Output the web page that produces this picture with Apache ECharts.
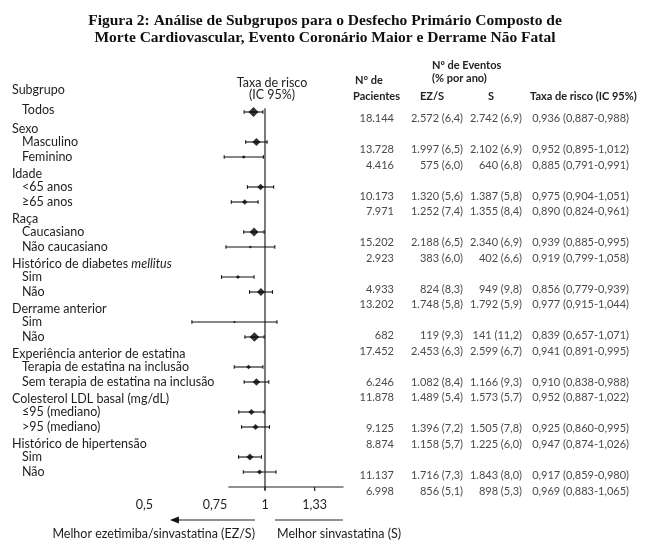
<!DOCTYPE html>
<html><head><meta charset="utf-8">
<script src="https://cdn.jsdelivr.net/npm/echarts@6/dist/echarts.min.js"></script>
<style>html,body{margin:0;padding:0;background:#fff}#c{width:650px;height:550px}</style>
</head><body><div id="c"></div>
<script>
// ---------------- data ----------------
const titleText = 'Figura 2: Análise de Subgrupos para o Desfecho Primário Composto de\nMorte Cardiovascular, Evento Coronário Maior e Derrame Não Fatal';
const subgroupHeader = 'Subgrupo';
const overallLabel = 'Todos';
const groupNames = ['Sexo', 'Idade', 'Raça', 'Histórico de diabetes {i|mellitus}', 'Derrame anterior',
  'Experiência anterior de estatina', 'Colesterol LDL basal (mg/dL)', 'Histórico de hipertensão'];
const subgroupNames = [['Masculino', 'Feminino'], ['<65 anos', '≥65 anos'], ['Caucasiano', 'Não caucasiano'],
  ['Sim', 'Não'], ['Sim', 'Não'], ['Terapia de estatina na inclusão', 'Sem terapia de estatina na inclusão'],
  ['≤95 (mediano)', '>95 (mediano)'], ['Sim', 'Não']];
// rows: Todos, then two subgroups per group
const hazardRatio = [0.936, 0.952, 0.885, 0.975, 0.890, 0.939, 0.919, 0.856, 0.977, 0.839, 0.941, 0.910, 0.952, 0.925, 0.947, 0.917, 0.969];
const ciLow =       [0.887, 0.895, 0.791, 0.904, 0.824, 0.885, 0.799, 0.779, 0.915, 0.657, 0.891, 0.838, 0.887, 0.860, 0.874, 0.859, 0.883];
const ciHigh =      [0.988, 1.012, 0.991, 1.051, 0.961, 0.995, 1.058, 0.939, 1.044, 1.071, 0.995, 0.988, 1.022, 0.995, 1.026, 0.980, 1.065];
const nPatients =   [18144, 13728, 4416, 10173, 7971, 15202, 2923, 4933, 13202, 682, 17452, 6246, 11878, 9125, 8874, 11137, 6998];
const ezsEvents =   [2572, 1997, 575, 1320, 1252, 2188, 383, 824, 1748, 119, 2453, 1082, 1489, 1396, 1158, 1716, 856];
const ezsRate =     [6.4, 6.5, 6.0, 5.6, 7.4, 6.5, 6.0, 8.3, 5.8, 9.3, 6.3, 8.4, 5.4, 7.2, 5.7, 7.3, 5.1];
const sEvents =     [2742, 2102, 640, 1387, 1355, 2340, 402, 949, 1792, 141, 2599, 1166, 1573, 1505, 1225, 1843, 898];
const sRate =       [6.9, 6.9, 6.8, 5.8, 8.4, 6.9, 6.6, 9.8, 5.9, 11.2, 6.7, 9.3, 5.7, 7.8, 6.0, 8.0, 5.3];
const xTickLabels = [0.5, 0.75, 1, 1.33];
const xTickMarks = [1, 1.33];
const plotHeader = 'Taxa de risco\n(IC 95%)';
const leftArrowText = 'Melhor ezetimiba/sinvastatina (EZ/S)';
const rightArrowText = 'Melhor sinvastatina (S)';
const tableHeaders = { n1: 'N° de', n2: 'Pacientes', ev1: 'Nº de Eventos', ev2: '(% por ano)', ezs: 'EZ/S', s: 'S', hr: 'Taxa de risco (IC 95%)' };

// ---------------- layout / style ----------------
const FONT = 'Lato';
const LFS = 12.5;
const labelColor = '#1e1e1e';
const numColor = '#4a4a4a';
const rowPx = 15, row0Y = 112;          // plot rows
const tRowPx = 15.52, tRow0Y = 118.5;   // table rows (slightly drifting in original)
const yMin = -2, yMax = 25;
const tMin = -4;
const xRef = 265, pxPerLn = 174;
const xMin = 0.4, xMax = 2;
const gridLeft = xRef - pxPerLn * Math.log(1 / xMin);
const gridRight = 650 - (xRef + pxPerLn * Math.log(xMax));
const plotTop = row0Y + yMin * rowPx;
const plotBottom = 550 - (row0Y + yMax * rowPx);
const tTop = tRow0Y + tMin * tRowPx;
const tBottom = 550 - (tRow0Y + yMax * tRowPx);

const rows = [0];
groupNames.forEach((g, gi) => rows.push(2 + 3 * gi, 3 + 3 * gi));

const fmtInt = v => String(v).replace(/\B(?=(\d{3})+(?!\d))/g, '.');
const fmtDec = (v, d) => v.toFixed(d).replace('.', ',');

// left labels
const leftLabels = [{ x: 12, row: -1.5, text: subgroupHeader }, { x: 22, row: -0.15, text: overallLabel }];
groupNames.forEach((g, gi) => {
  leftLabels.push({ x: 12, row: rows[1 + 2 * gi] - 0.9, text: g });
  subgroupNames[gi].forEach((s, si) => leftLabels.push({ x: 22, row: rows[1 + 2 * gi + si], text: s }));
});

// table cells
const tableCells = [];
rows.forEach((r, i) => {
  tableCells.push({ x: 394, row: r, text: fmtInt(nPatients[i]), align: 'right' });
  tableCells.push({ x: 463, row: r, text: fmtInt(ezsEvents[i]) + ' (' + fmtDec(ezsRate[i], 1) + ')', align: 'right' });
  tableCells.push({ x: 522, row: r, text: fmtInt(sEvents[i]) + ' (' + fmtDec(sRate[i], 1) + ')', align: 'right' });
  tableCells.push({ x: 629, row: r, text: fmtDec(hazardRatio[i], 3) + ' (' + fmtDec(ciLow[i], 3) + '-' + fmtDec(ciHigh[i], 3) + ')', align: 'right' });
});
const tableHead = [
  { x: 355, row: -2.45, text: tableHeaders.n1, align: 'left' },
  { x: 353, row: -1.45, text: tableHeaders.n2, align: 'left' },
  { x: 432, row: -3.45, text: tableHeaders.ev1, align: 'left' },
  { x: 432, row: -2.61, text: tableHeaders.ev2, align: 'left' },
  { x: 420, row: -1.45, text: tableHeaders.ezs, align: 'left' },
  { x: 491, row: -1.45, text: tableHeaders.s, align: 'center' },
  { x: 530, row: -1.45, text: tableHeaders.hr, align: 'left' }
];

function textSeries(gridIdx, items, style) {
  return {
    type: 'custom', xAxisIndex: gridIdx, yAxisIndex: gridIdx, clip: false, silent: true,
    data: items.map(d => [d.x, d.row]),
    renderItem(params, api) {
      const d = items[params.dataIndex];
      const p = api.coord([api.value(0), api.value(1)]);
      return {
        type: 'text', x: p[0], y: p[1],
        style: Object.assign({
          text: d.text, textAlign: d.align || 'left', textVerticalAlign: 'middle',
          rich: { i: { fontStyle: 'italic', fontFamily: style.fontFamily, fontSize: style.fontSize, fill: style.fill } }
        }, style)
      };
    }
  };
}

const option = {
  animation: false,
  backgroundColor: '#fff',
  title: {
    text: titleText, left: 'center', top: 8,
    textStyle: { fontFamily: 'Liberation Serif', fontWeight: 'bold', fontSize: 15.5, lineHeight: 16.5, color: '#111' }
  },
  grid: [
    { left: gridLeft, right: gridRight, top: plotTop, bottom: plotBottom },
    { left: 0, right: 0, top: plotTop, bottom: plotBottom },
    { left: 0, right: 0, top: tTop, bottom: tBottom }
  ],
  xAxis: [
    {
      type: 'log', gridIndex: 0, min: xMin, max: xMax, logBase: 10,
      axisLine: { show: false }, splitLine: { show: false }, axisTick: { show: false },
      axisLabel: {
        customValues: xTickLabels, margin: 11, color: labelColor, fontFamily: FONT, fontSize: LFS,
        formatter: v => String(+(+v).toFixed(2)).replace('.', ',')
      }
    },
    { type: 'value', gridIndex: 1, min: 0, max: 650, show: false },
    { type: 'value', gridIndex: 2, min: 0, max: 650, show: false }
  ],
  yAxis: [
    { type: 'value', gridIndex: 0, min: yMin, max: yMax, inverse: true, show: false },
    { type: 'value', gridIndex: 1, min: yMin, max: yMax, inverse: true, show: false },
    { type: 'value', gridIndex: 2, min: tMin, max: yMax, inverse: true, show: false }
  ],
  series: [
    // reference line, axis line, ticks, arrows
    {
      type: 'custom', xAxisIndex: 0, yAxisIndex: 0, clip: false, silent: true,
      data: [[1, 0]],
      renderItem(params, api) {
        const ls = { stroke: '#222', lineWidth: 1.2 };
        const a = api.coord([1, -0.25]), b = api.coord([1, 25.2]);
        const l1 = api.coord([0.81, 25]), l2 = api.coord([1.57, 25]);
        const ar1 = api.coord([0.944, 27.2]), ar2 = api.coord([0.579, 27.2]);
        const r1 = api.coord([1.059, 27.2]), r2 = api.coord([1.565, 27.2]);
        const tl = api.coord([0.944, 28.1]), tr = api.coord([1.059, 28.1]);
        const ticks = xTickMarks.map(t => {
          const p = api.coord([t, 25]);
          return { type: 'line', shape: { x1: p[0], y1: p[1], x2: p[0], y2: p[1] + 4 }, style: ls };
        });
        return {
          type: 'group', children: [
            { type: 'line', shape: { x1: a[0], y1: a[1], x2: b[0], y2: b[1] }, style: ls },
            { type: 'line', shape: { x1: l1[0], y1: l1[1], x2: l2[0], y2: l2[1] }, style: ls },
            { type: 'line', shape: { x1: ar1[0], y1: ar1[1], x2: ar2[0] + 6, y2: ar2[1] }, style: ls },
            { type: 'polygon', shape: { points: [[ar2[0], ar2[1]], [ar2[0] + 9, ar2[1] - 3.5], [ar2[0] + 9, ar2[1] + 3.5]] }, style: { fill: '#111' } },
            { type: 'line', shape: { x1: r1[0], y1: r1[1], x2: r2[0], y2: r2[1] }, style: ls },
            { type: 'text', x: tl[0], y: tl[1], style: { text: leftArrowText, textAlign: 'right', textVerticalAlign: 'middle', fontFamily: FONT, fontSize: LFS, fill: labelColor } },
            { type: 'text', x: tr[0] + 2, y: tr[1], style: { text: rightArrowText, textAlign: 'left', textVerticalAlign: 'middle', fontFamily: FONT, fontSize: LFS, fill: labelColor } }
          ].concat(ticks)
        };
      }
    },
    // confidence intervals
    {
      type: 'custom', xAxisIndex: 0, yAxisIndex: 0, clip: false, silent: true,
      data: rows.map((r, i) => [ciLow[i], ciHigh[i], r]),
      encode: { x: [0, 1], y: 2 },
      renderItem(params, api) {
        const p1 = api.coord([api.value(0), api.value(2)]);
        const p2 = api.coord([api.value(1), api.value(2)]);
        const st = { stroke: '#111', lineWidth: 1.1 };
        return {
          type: 'group', children: [
            { type: 'line', shape: { x1: p1[0], y1: p1[1], x2: p2[0], y2: p2[1] }, style: st },
            { type: 'line', shape: { x1: p1[0], y1: p1[1] - 1.8, x2: p1[0], y2: p1[1] + 1.8 }, style: st },
            { type: 'line', shape: { x1: p2[0], y1: p2[1] - 1.8, x2: p2[0], y2: p2[1] + 1.8 }, style: st }
          ]
        };
      }
    },
    // point estimates (marker size grows with number of patients)
    {
      type: 'scatter', xAxisIndex: 0, yAxisIndex: 0, silent: true, symbol: 'diamond',
      data: rows.map((r, i) => [hazardRatio[i], r, nPatients[i]]),
      symbolSize: v => Math.max(2.5, 10 * Math.pow(v[2] / nPatients[0], 0.7)),
      itemStyle: { color: '#000' }
    },
    textSeries(1, leftLabels, { fontFamily: FONT, fontSize: LFS, fill: labelColor }),
    textSeries(1, [{ x: 272, row: -1.55, text: plotHeader, align: 'center' }], { fontFamily: FONT, fontSize: LFS, fill: labelColor, lineHeight: 12.5 }),
    textSeries(2, tableCells, { fontFamily: FONT, fontSize: 11, fill: numColor }),
    textSeries(2, tableHead, { fontFamily: FONT, fontSize: 11, fontWeight: 'bold', fill: '#222' })
  ]
};
const chart = echarts.init(document.getElementById('c'));
chart.setOption(option);
</script></body></html>
